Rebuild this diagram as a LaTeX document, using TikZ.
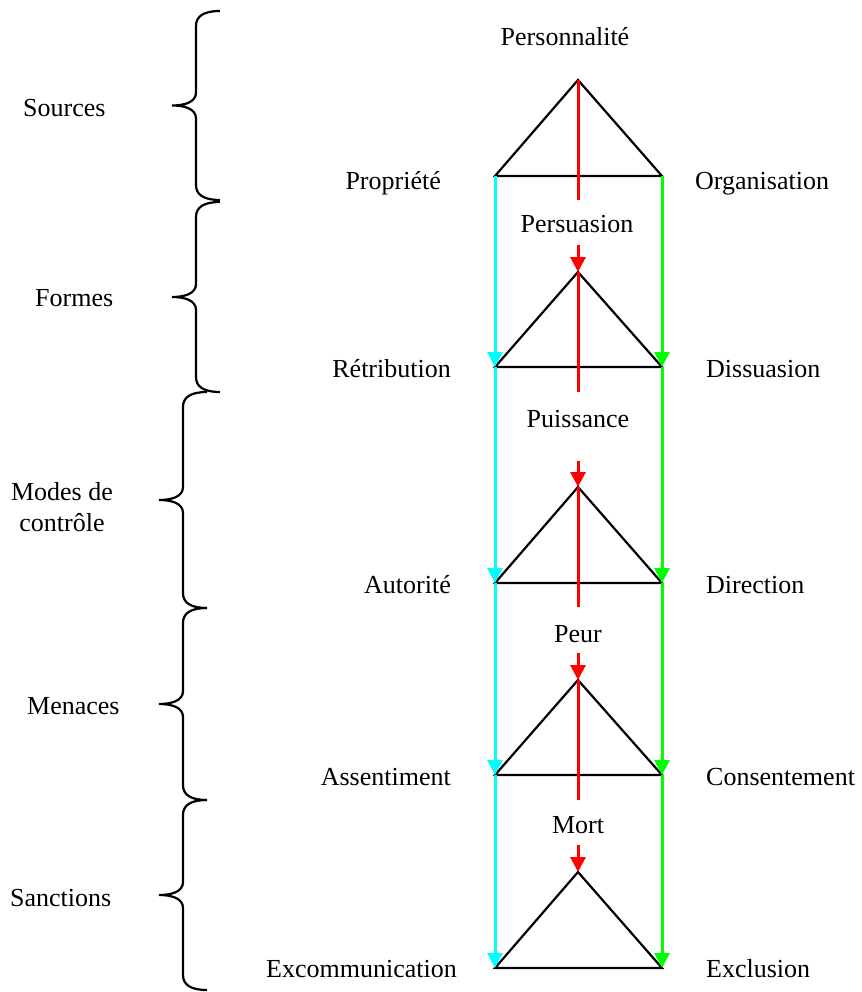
\documentclass[tikz,border=0pt]{standalone}
\usepackage{fontspec}
\setmainfont{Liberation Serif}
\usetikzlibrary{arrows.meta}

\definecolor{cyanc}{RGB}{0,255,255}
\definecolor{greenc}{RGB}{0,255,0}
\definecolor{redc}{RGB}{255,0,0}

% brace on the left: #1 = x of its ends, #2 = top, #3 = bottom
\newcommand{\sidebrace}[3]{%
  \draw [bracelw] (#1,#2) .. controls +(-16,0) and +(0,-10) .. ({#1-24},{#2+15})
        -- ({#1-24},{(#2+#3)/2-13}) .. controls +(0,10) and +(12,0) .. ({#1-48},{(#2+#3)/2})
        .. controls +(12,0) and +(0,-10) .. ({#1-24},{(#2+#3)/2+13})
        -- ({#1-24},{#3-15}) .. controls +(0,10) and +(-16,0) .. (#1,#3);%
}

\tikzset{
  bracelw/.style={line width=2.2pt},
  tri/.style={line width=2.2pt, line join=miter},
  tip/.style={-{Triangle[length=15pt,width=15pt]}},
  redline/.style={line width=3pt, redc},
  cyanline/.style={line width=3pt, cyanc, tip},
  greenline/.style={line width=3pt, greenc, tip},
  lbl/.style={inner sep=0pt, font=\fontsize{26}{31}\selectfont}
}

\begin{document}
\begin{tikzpicture}[x=1pt, y=-1pt]
        \useasboundingbox (0,0) rectangle (861,992);

        % corners of the triangles
        \coordinate (t1) at (578,80);  \coordinate (l1) at (495,176); \coordinate (r1) at (662,176);
        \coordinate (t2) at (578,272); \coordinate (l2) at (495,367); \coordinate (r2) at (662,367);
        \coordinate (t3) at (578,487); \coordinate (l3) at (495,583); \coordinate (r3) at (662,583);
        \coordinate (t4) at (578,680); \coordinate (l4) at (495,775); \coordinate (r4) at (662,775);
        \coordinate (t5) at (578,872); \coordinate (l5) at (495,968); \coordinate (r5) at (662,968);

        % ends of the red segments
        \coordinate (e1) at (578,200); \coordinate (s2) at (578,245);
        \coordinate (e2) at (578,392); \coordinate (s3) at (578,461);
        \coordinate (e3) at (578,607); \coordinate (s4) at (578,653);
        \coordinate (e4) at (578,800); \coordinate (s5) at (578,845);

        \draw [tri] (t1) -- (l1) -- (r1) -- cycle;         %Personnalite
        \draw [tri] (t2) -- (l2) -- (r2) -- cycle;         %Persuasion
        \draw [tri] (t3) -- (l3) -- (r3) -- cycle;         %Puissance
        \draw [tri] (t4) -- (l4) -- (r4) -- cycle;         %Peur
        \draw [tri] (t5) -- (l5) -- (r5) -- cycle;         %Mort

        \draw [redline]      (t1) -- (e1);                 %
        \draw [redline, tip] (s2) -- (t2);                 %
        \draw [redline]      (t2) -- (e2);                 %
        \draw [redline, tip] (s3) -- (t3);                 %
        \draw [redline]      (t3) -- (e3);                 %
        \draw [redline, tip] (s4) -- (t4);                 %
        \draw [redline]      (t4) -- (e4);                 %
        \draw [redline, tip] (s5) -- (t5);                 %

        \draw [cyanline]  (l1) -- (l2);                    %left side
        \draw [cyanline]  (l2) -- (l3);                    %
        \draw [cyanline]  (l3) -- (l4);                    %
        \draw [cyanline]  (l4) -- (l5);                    %
        \draw [greenline] (r1) -- (r2);                    %right side
        \draw [greenline] (r2) -- (r3);                    %
        \draw [greenline] (r3) -- (r4);                    %
        \draw [greenline] (r4) -- (r5);                    %

        \node [lbl, anchor=base]      (personnalite) at (565,46)  {Personnalité};
        \node [lbl, anchor=base east] (propriete)    at (441,190) {Propriété};
        \node [lbl, anchor=base west] (organisation) at (695,190) {Organisation};
        \node [lbl, anchor=base]      (persuasion)   at (577,233) {Persuasion};
        \node [lbl, anchor=base east] (retribution)  at (451,377) {Rétribution};
        \node [lbl, anchor=base west] (dissuasion)   at (706,377) {Dissuasion};
        \node [lbl, anchor=base]      (puissance)    at (578,427) {Puissance};
        \node [lbl, anchor=base east] (autorite)     at (451,593) {Autorité};
        \node [lbl, anchor=base west] (direction)    at (706,593) {Direction};
        \node [lbl, anchor=base]      (peur)         at (578,642) {Peur};
        \node [lbl, anchor=base east] (assentiment)  at (451,785) {Assentiment};
        \node [lbl, anchor=base west] (consentement) at (706,785) {Consentement};
        \node [lbl, anchor=base]      (mort)         at (578,833) {Mort};
        \node [lbl, anchor=base east] (excomm)       at (457,977) {Excommunication};
        \node [lbl, anchor=base west] (exclusion)    at (706,977) {Exclusion};

        % groups on the left
        \sidebrace{220}{11}{200}                           %Sources
        \sidebrace{220}{202}{392}                          %Formes
        \sidebrace{207}{392}{608}                          %Modes de controle
        \sidebrace{207}{608}{800}                          %Menaces
        \sidebrace{207}{800}{990}                          %Sanctions
        \node [lbl, anchor=base west] (sources)  at (23,117) {Sources};
        \node [lbl, anchor=base west] (formes)   at (35,306) {Formes};
        \node [lbl, align=center]     (modes)    at (62,507) {Modes de\\contrôle};
        \node [lbl, anchor=base west] (menaces)  at (27,714) {Menaces};
        \node [lbl, anchor=base west] (sanctions) at (10,906) {Sanctions};
\end{tikzpicture}
\end{document}
